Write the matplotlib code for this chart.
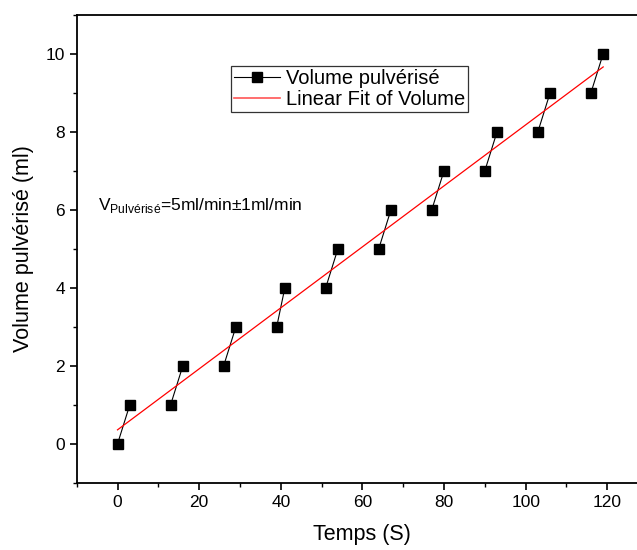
"""Volume pulvérisé vs temps, with linear fit (Origin-style figure)."""

import numpy as np
import matplotlib

matplotlib.use("Agg")
import matplotlib.pyplot as plt
from matplotlib.ticker import MultipleLocator

plt.rcParams["font.family"] = ["Liberation Sans", "DejaVu Sans"]
plt.rcParams["mathtext.fontset"] = "custom"
plt.rcParams["mathtext.rm"] = "Liberation Sans"

# measured points, plotted as pairs (t, t+3)
temps = [0, 3, 13, 16, 26, 29, 39, 41, 51, 54, 64, 67, 77, 80, 90, 93, 103, 106, 116, 119]
volume = [0, 1, 1, 2, 2, 3, 3, 4, 4, 5, 5, 6, 6, 7, 7, 8, 8, 9, 9, 10]

x_ticks = [0, 20, 40, 60, 80, 100, 120]
y_ticks = [0, 2, 4, 6, 8, 10]

t = np.array(temps, dtype=float)
v = np.array(volume, dtype=float)
slope, intercept = np.polyfit(t, v, 1)

fig = plt.figure(figsize=(6.37, 5.50), dpi=100)
ax = fig.add_axes([0.1204, 0.1218, 0.897, 0.8515])

# black connecting line only inside each pair
for i in range(0, len(t), 2):
    ax.plot(t[i:i + 2], v[i:i + 2], color="black", lw=0.8, zorder=2)
ax.plot(t, v, ls="none", marker="s", ms=7.2, color="black", zorder=3)

fit_x = np.array([t.min(), t.max()])
ax.plot(fit_x, slope * fit_x + intercept, color="red", lw=0.9, zorder=2.5)

# legend proxies
h1, = ax.plot([], [], color="black", lw=0.8, marker="s", ms=7.2)
h2, = ax.plot([], [], color="#ff5555", lw=1.2)
leg = ax.legend([h1, h2], ["Volume pulvérisé", "Linear Fit of Volume"],
                loc="upper left", bbox_to_anchor=(0.2696, 0.891), borderaxespad=0,
                fontsize=14.5, numpoints=1, handlelength=2.3, handletextpad=0.3,
                borderpad=0.15, labelspacing=0.1, fancybox=False, framealpha=1)
leg.get_frame().set_edgecolor("#333333")
leg.get_frame().set_linewidth(0.9)

ax.annotate(r"V$_{\mathrm{Pulvérisé}}$=5ml/min±1ml/min", xy=(98, 340),
            xycoords="figure pixels", fontsize=12.5)

ax.set_xlim(-10, 130)
ax.set_ylim(-1, 11)
ax.set_xticks(x_ticks)
ax.set_yticks(y_ticks)
ax.xaxis.set_minor_locator(MultipleLocator(10))
ax.yaxis.set_minor_locator(MultipleLocator(1))
ax.tick_params(which="major", direction="out", length=5, width=1.2, labelsize=12.5)
ax.tick_params(which="minor", direction="out", length=3, width=1.0)
for side in ("left", "bottom", "top"):
    ax.spines[side].set_linewidth(1.3)
ax.spines["right"].set_visible(False)

ax.set_xlabel("Temps (S)", fontsize=15.5, labelpad=10)
ax.set_ylabel("Volume pulvérisé (ml)", fontsize=15.5, labelpad=8)

fig.savefig("out.png", dpi=100)
